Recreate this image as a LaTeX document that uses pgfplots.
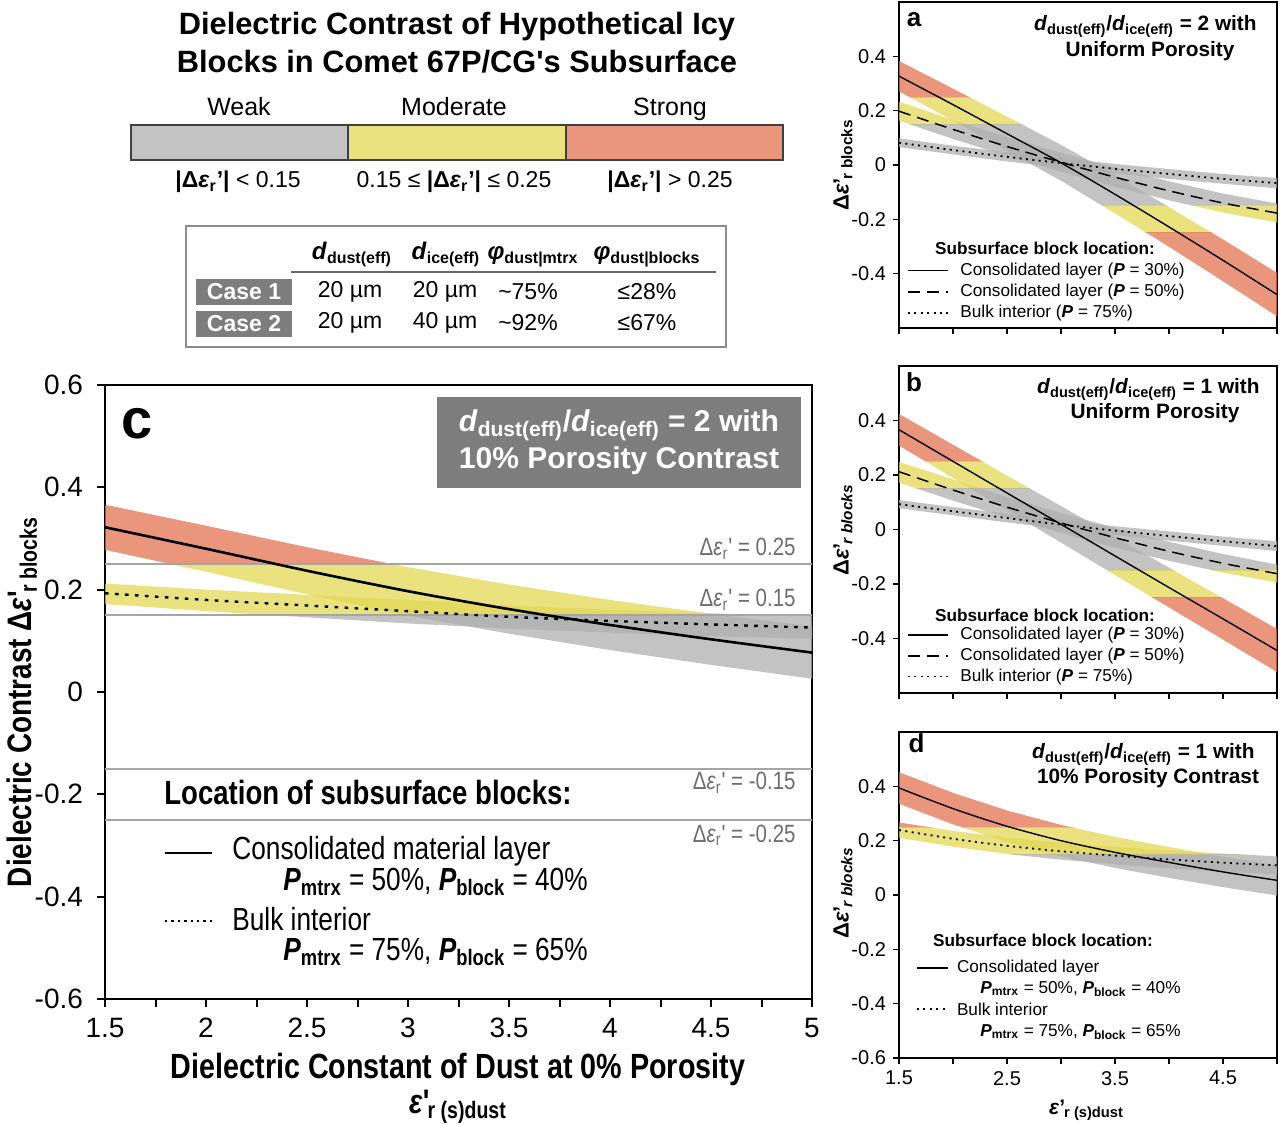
\documentclass[border=0pt]{standalone}
\usepackage{fontspec}
\setmainfont{Liberation Sans}
\newfontfamily\narrow[FakeStretch=0.82]{Liberation Sans}
\usepackage{pgfplots}
\usepackage{pgfplotstable}
\pgfplotsset{compat=1.18}

\definecolor{cgray}{RGB}{175,175,175}
\definecolor{cyel}{RGB}{226,216,84}
\definecolor{cred}{RGB}{226,115,80}
\definecolor{bgray}{RGB}{195,195,195}
\definecolor{byel}{RGB}{233,226,127}
\definecolor{bred}{RGB}{233,150,124}
\definecolor{boxgray}{RGB}{125,125,125}
\definecolor{refgray}{RGB}{165,165,165}
\definecolor{lblgray}{RGB}{110,110,110}

% epsilon with prime and a long subscript, and eps_r'
\newcommand{\ep}[1]{\textit{ε}'\kern-0.05em\textsubscript{#1}}
\newcommand{\epr}{\textit{ε}\textsubscript{r}'}
% one colour class of a band: #1 band polygon, #2 colour, #3 clip box
\newcommand{\strat}[3]{\begin{scope}\clip #3;\addplot[draw=none,fill=#2,fill opacity=0.75] table{#1};\end{scope}}
\newcommand{\Rp}{(axis cs:1,0.25) rectangle (axis cs:6,1)}
\newcommand{\Yp}{(axis cs:1,0.15) rectangle (axis cs:6,0.25)}
\newcommand{\G}{(axis cs:1,-0.15) rectangle (axis cs:6,0.15)}
\newcommand{\Ym}{(axis cs:1,-0.25) rectangle (axis cs:6,-0.15)}
\newcommand{\Rm}{(axis cs:1,-1) rectangle (axis cs:6,-0.25)}

% centre lines: s = solid, m = dashed, o = dotted
\pgfplotstableread{
x   s     o
1.5 0.322 0.193
2.0 0.280 0.180
2.5 0.237 0.169
3.0 0.197 0.158
3.5 0.162 0.147
4.0 0.131 0.139
4.5 0.103 0.132
5.0 0.077 0.126
}\linc
\pgfplotstableread{
x   s      m      o
1.5 0.327  0.198  0.082
2.0 0.222  0.131  0.055
2.5 0.115  0.068  0.030
3.0 0.008  0.010  0.007
3.5 -0.108 -0.045 -0.014
4.0 -0.228 -0.095 -0.033
4.5 -0.351 -0.140 -0.051
5.0 -0.477 -0.177 -0.067
}\lina
\pgfplotstableread{
x   s      m      o
1.5 0.366  0.212  0.093
2.0 0.250  0.145  0.067
2.5 0.134  0.082  0.042
3.0 0.019  0.024  0.018
3.5 -0.097 -0.030 -0.004
4.0 -0.213 -0.080 -0.024
4.5 -0.328 -0.124 -0.043
5.0 -0.444 -0.162 -0.061
}\linb
\pgfplotstableread{
x   s     o
1.5 0.394 0.239
2.0 0.318 0.207
2.5 0.253 0.181
3.0 0.200 0.161
3.5 0.157 0.145
4.0 0.120 0.131
4.5 0.085 0.119
5.0 0.054 0.109
}\lind

% uncertainty bands: upper edge left to right, then lower edge right to left
\pgfplotstableread{
1.5 0.366
2.0 0.325
2.5 0.283
3.0 0.244
3.5 0.210
4.0 0.180
4.5 0.153
5.0 0.128
5.0 0.026
4.5 0.053
4.0 0.082
3.5 0.114
3.0 0.149
2.5 0.191
2.0 0.235
1.5 0.278
}\bcs
\pgfplotstableread{
1.5 0.212
2.0 0.200
2.5 0.190
3.0 0.180
3.5 0.169
4.0 0.161
4.5 0.154
5.0 0.148
5.0 0.104
4.5 0.109
4.0 0.116
3.5 0.124
3.0 0.134
2.5 0.146
2.0 0.158
1.5 0.172
}\bco
\pgfplotstableread{
1.5 0.383
2.0 0.281
2.5 0.178
3.0 0.074
3.5 -0.038
4.0 -0.155
4.5 -0.274
5.0 -0.397
5.0 -0.557
4.5 -0.428
4.0 -0.301
3.5 -0.178
3.0 -0.058
2.5 0.052
2.0 0.163
1.5 0.271
}\bas
\pgfplotstableread{
1.5 0.233
2.0 0.166
2.5 0.103
3.0 0.045
3.5 -0.010
4.0 -0.060
4.5 -0.105
5.0 -0.142
5.0 -0.212
4.5 -0.175
4.0 -0.130
3.5 -0.080
3.0 -0.025
2.5 0.033
2.0 0.096
1.5 0.163
}\bam
\pgfplotstableread{
1.5 0.098
2.0 0.071
2.5 0.047
3.0 0.024
3.5 0.004
4.0 -0.015
4.5 -0.033
5.0 -0.048
5.0 -0.086
4.5 -0.069
4.0 -0.051
3.5 -0.032
3.0 -0.010
2.5 0.013
2.0 0.039
1.5 0.066
}\bao
\pgfplotstableread{
1.5 0.424
2.0 0.311
2.5 0.198
3.0 0.086
3.5 -0.027
4.0 -0.140
4.5 -0.252
5.0 -0.365
5.0 -0.523
4.5 -0.404
4.0 -0.286
3.5 -0.167
3.0 -0.048
2.5 0.070
2.0 0.189
1.5 0.308
}\bbs
\pgfplotstableread{
1.5 0.248
2.0 0.184
2.5 0.120
3.0 0.061
3.5 0.006
4.0 -0.045
4.5 -0.090
5.0 -0.129
5.0 -0.195
4.5 -0.158
4.0 -0.115
3.5 -0.066
3.0 -0.013
2.5 0.044
2.0 0.106
1.5 0.172
}\bbm
\pgfplotstableread{
1.5 0.108
2.0 0.082
2.5 0.058
3.0 0.034
3.5 0.012
4.0 -0.007
4.5 -0.026
5.0 -0.043
5.0 -0.079
4.5 -0.060
4.0 -0.041
3.5 -0.020
3.0 0.002
2.5 0.026
2.0 0.052
1.5 0.078
}\bbo
\pgfplotstableread{
1.5 0.452
2.0 0.376
2.5 0.311
3.0 0.258
3.5 0.214
4.0 0.177
4.5 0.141
5.0 0.110
5.0 -0.002
4.5 0.029
4.0 0.063
3.5 0.100
3.0 0.142
2.5 0.195
2.0 0.260
1.5 0.336
}\bds
\pgfplotstableread{
1.5 0.267
2.0 0.236
2.5 0.211
3.0 0.192
3.5 0.177
4.0 0.164
4.5 0.153
5.0 0.142
5.0 0.076
4.5 0.085
4.0 0.098
3.5 0.113
3.0 0.130
2.5 0.151
2.0 0.178
1.5 0.211
}\bdo

\pgfplotsset{
  panel/.style={scale only axis, anchor=south west, xmin=1.5, xmax=5, ymin=-0.6, ymax=0.6,
    tick align=outside, tick pos=left,
    axis line style={line width=0.9pt}, tick style={black, line width=0.8pt},
    major tick length=3pt, minor tick length=3pt,
    /pgf/number format/assume math mode=true},
  small/.style={panel, width=189pt, height=163pt,
    xtick={1.5,2,2.5,3,3.5,4,4.5,5}, ytick={-0.4,-0.2,0,0.2,0.4},
    tick label style={font=\fontsize{10}{12}\selectfont}},
  solidl/.style={black, line width=0.7pt, smooth},
  dashl/.style={black, line width=0.75pt, smooth, dash pattern=on 6pt off 3.5pt},
  dotl/.style={black, line width=0.9pt, smooth, dash pattern=on 1pt off 2.2pt},
}
\tikzset{lab/.style={inner sep=0pt}}

\begin{document}
\begin{tikzpicture}
\useasboundingbox (0,0) rectangle (641.5pt,562pt);

% ---------- title and colour key ----------
\node[lab, anchor=base, font=\fontsize{15.4}{18}\selectfont\bfseries] at (228.5pt,544.5pt) {Dielectric Contrast of Hypothetical Icy};
\node[lab, anchor=base, font=\fontsize{15.4}{18}\selectfont\bfseries] at (228.5pt,525.5pt) {Blocks in Comet 67P/CG\textquotesingle s Subsurface};

\draw[line width=0.7pt, draw=black!75, fill=bgray] (65.5pt,482pt) rectangle (174pt,499.5pt);
\draw[line width=0.7pt, draw=black!75, fill=byel] (174pt,482pt) rectangle (283pt,499.5pt);
\draw[line width=0.7pt, draw=black!75, fill=bred] (283pt,482pt) rectangle (391.5pt,499.5pt);
\node[lab, anchor=base, font=\fontsize{12.5}{14}\selectfont] at (119.5pt,504pt) {Weak};
\node[lab, anchor=base, font=\fontsize{12.5}{14}\selectfont] at (227pt,504pt) {Moderate};
\node[lab, anchor=base, font=\fontsize{12.5}{14}\selectfont] at (335pt,504pt) {Strong};
\node[lab, anchor=base, font=\fontsize{11.5}{13}\selectfont] at (119pt,468pt) {\textbf{|Δ\epr|} < 0.15};
\node[lab, anchor=base, font=\fontsize{11.5}{13}\selectfont] at (227pt,468pt) {0.15 ≤ \textbf{|Δ\epr|} ≤ 0.25};
\node[lab, anchor=base, font=\fontsize{11.5}{13}\selectfont] at (335pt,468pt) {\textbf{|Δ\epr|} > 0.25};

% ---------- table ----------
\draw[draw=black!45, line width=0.6pt] (93pt,388.5pt) rectangle (363pt,449pt);
\draw[black!60, line width=0.6pt] (145.5pt,426pt) -- (358pt,426pt);
\node[lab, anchor=base, font=\fontsize{12}{14}\selectfont\bfseries] at (176pt,432pt) {\textit{d}\textsubscript{dust(eff)}};
\node[lab, anchor=base, font=\fontsize{12}{14}\selectfont\bfseries] at (223pt,432pt) {\textit{d}\textsubscript{ice(eff)}};
\node[lab, anchor=base, font=\fontsize{12}{14}\selectfont\bfseries] at (266.5pt,432pt) {\textit{φ}\textsubscript{dust|mtrx}};
\node[lab, anchor=base, font=\fontsize{12}{14}\selectfont\bfseries] at (323.5pt,432pt) {\textit{φ}\textsubscript{dust|blocks}};
\fill[boxgray] (98pt,409.5pt) rectangle (146pt,422.5pt);
\fill[boxgray] (98pt,393.5pt) rectangle (146pt,406.5pt);
\node[lab, white, font=\fontsize{11.5}{13}\selectfont\bfseries] at (122pt,416pt) {Case 1};
\node[lab, white, font=\fontsize{11.5}{13}\selectfont\bfseries] at (122pt,400pt) {Case 2};
\begin{scope}[every node/.style={lab, font=\fontsize{11.5}{13}\selectfont}]
\node at (175pt,416pt) {20 µm};
\node at (222.5pt,416pt) {20 µm};
\node at (264pt,416pt) {\textasciitilde75\%};
\node at (323.5pt,416pt) {≤28\%};
\node at (175pt,400.5pt) {20 µm};
\node at (222.5pt,400.5pt) {40 µm};
\node at (264pt,400.5pt) {\textasciitilde92\%};
\node at (323.5pt,400.5pt) {≤67\%};
\end{scope}

% ---------- panel c ----------
\begin{axis}[panel, width=353.5pt, height=307pt, at={(52.5pt,62.5pt)},
  xtick={1.5,2,2.5,3,3.5,4,4.5,5}, minor xtick={1.75,2.25,2.75,3.25,3.75,4.25,4.75},
  ytick={-0.6,-0.4,-0.2,0,0.2,0.4,0.6},
  major tick length=4pt, minor tick length=4pt,
  axis line style={line width=1.1pt}, tick style={black, line width=1pt},
  tick label style={font=\fontsize{14}{16}\selectfont},
  yticklabel style={xshift=-3.5pt}, xticklabel style={yshift=-2pt}]
\strat{\bcs}{cred}{\Rp}
\strat{\bcs}{cyel}{\Yp}
\strat{\bcs}{cgray}{\G}
\strat{\bco}{cyel}{\Yp}
\strat{\bco}{cgray}{\G}
\addplot[refgray, line width=0.8pt] coordinates {(1.5,0.25) (5,0.25)};
\addplot[refgray, line width=0.8pt] coordinates {(1.5,0.15) (5,0.15)};
\addplot[refgray, line width=0.8pt] coordinates {(1.5,-0.15) (5,-0.15)};
\addplot[refgray, line width=0.8pt] coordinates {(1.5,-0.25) (5,-0.25)};
\addplot[black, line width=1.3pt, smooth] table[x=x,y=s]{\linc};
\addplot[black, line width=1.2pt, smooth, dash pattern=on 1.8pt off 3.2pt] table[x=x,y=o]{\linc};
\end{axis}

\node[lab, font=\fontsize{28}{30}\selectfont\bfseries] at (68.5pt,350pt) {c};
\fill[boxgray] (218.5pt,318pt) rectangle (400.5pt,363.5pt);
\node[lab, white, align=center, font=\fontsize{15}{18.5}\selectfont\bfseries] at (309.5pt,341pt)
  {\textit{d}\textsubscript{dust(eff)}/\textit{d}\textsubscript{ice(eff)} = 2 with\\10\% Porosity Contrast};
\begin{scope}[every node/.style={lab, anchor=base east, text=lblgray, font=\narrow\fontsize{12.5}{14}\selectfont}]
\node at (398pt,284pt) {Δ\epr\ = 0.25};
\node at (398pt,258.5pt) {Δ\epr\ = 0.15};
\node at (398pt,167pt) {Δ\epr\ = -0.15};
\node at (398pt,141pt) {Δ\epr\ = -0.25};
\end{scope}
\node[lab, anchor=base west, font=\narrow\fontsize{16.8}{18}\selectfont\bfseries] at (82pt,159.5pt) {Location of subsurface blocks:};
\draw[black, line width=1.3pt] (82.5pt,135.5pt) -- (106pt,135.5pt);
\draw[black, line width=1.2pt, dash pattern=on 1.2pt off 2pt] (82.5pt,101.5pt) -- (106pt,101.5pt);
\begin{scope}[every node/.style={lab, anchor=base west, font=\narrow\fontsize{16}{18}\selectfont}]
\node at (116pt,132pt) {Consolidated material layer};
\node at (141.5pt,117pt) {\textbf{\textit{P}\textsubscript{mtrx}} = 50\%, \textbf{\textit{P}\textsubscript{block}} = 40\%};
\node at (116pt,97pt) {Bulk interior};
\node at (141.5pt,82pt) {\textbf{\textit{P}\textsubscript{mtrx}} = 75\%, \textbf{\textit{P}\textsubscript{block}} = 65\%};
\end{scope}
\node[lab, rotate=90, font=\narrow\fontsize{17}{19}\selectfont\bfseries] at (11pt,211pt) {Dielectric Contrast Δ\ep{r blocks}};
\node[lab, anchor=base, font=\narrow\fontsize{17.5}{19}\selectfont\bfseries] at (229pt,23pt) {Dielectric Constant of Dust at 0\% Porosity};
\node[lab, font=\narrow\fontsize{17}{19}\selectfont\bfseries] at (229pt,8.5pt) {\ep{r (s)dust}};

% ---------- panel a ----------
\begin{axis}[small, at={(449.5pt,398pt)}, xticklabels={}]
\strat{\bas}{cred}{\Rp}
\strat{\bas}{cyel}{\Yp}
\strat{\bas}{cgray}{\G}
\strat{\bas}{cyel}{\Ym}
\strat{\bas}{cred}{\Rm}
\strat{\bam}{cyel}{\Yp}
\strat{\bam}{cgray}{\G}
\strat{\bam}{cyel}{\Ym}
\addplot[draw=none, fill=cgray, fill opacity=0.75] table{\bao};
\addplot[solidl] table[x=x,y=s]{\lina};
\addplot[dashl] table[x=x,y=m]{\lina};
\addplot[dotl] table[x=x,y=o]{\lina};
\end{axis}

% ---------- panel b ----------
\begin{axis}[small, at={(449.5pt,215.5pt)}, height=163.5pt, xticklabels={}]
\strat{\bbs}{cred}{\Rp}
\strat{\bbs}{cyel}{\Yp}
\strat{\bbs}{cgray}{\G}
\strat{\bbs}{cyel}{\Ym}
\strat{\bbs}{cred}{\Rm}
\strat{\bbm}{cyel}{\Yp}
\strat{\bbm}{cgray}{\G}
\strat{\bbm}{cyel}{\Ym}
\addplot[draw=none, fill=cgray, fill opacity=0.75] table{\bbo};
\addplot[solidl] table[x=x,y=s]{\linb};
\addplot[dashl] table[x=x,y=m]{\linb};
\addplot[dotl] table[x=x,y=o]{\linb};
\end{axis}

% ---------- panel d ----------
\begin{axis}[small, at={(449.5pt,33pt)}, xtick={1.5,2.5,3.5,4.5}, minor xtick={2,3,4,5},
  ytick={-0.6,-0.4,-0.2,0,0.2,0.4}]
\strat{\bds}{cred}{\Rp}
\strat{\bds}{cyel}{\Yp}
\strat{\bds}{cgray}{\G}
\strat{\bdo}{cred}{\Rp}
\strat{\bdo}{cyel}{\Yp}
\strat{\bdo}{cgray}{\G}
\addplot[solidl] table[x=x,y=s]{\lind};
\addplot[dotl] table[x=x,y=o]{\lind};
\end{axis}

% ---------- small panel annotations ----------
\begin{scope}[every node/.style={lab}]
\node[font=\fontsize{13}{15}\selectfont\bfseries] at (457pt,552pt) {a};
\node[font=\fontsize{13}{15}\selectfont\bfseries] at (457pt,371pt) {b};
\node[font=\fontsize{13}{15}\selectfont\bfseries] at (458.3pt,190.5pt) {d};
\node[anchor=base east, font=\fontsize{10.4}{12}\selectfont\bfseries] at (628.5pt,546.5pt) {\textit{d}\textsubscript{dust(eff)}/\textit{d}\textsubscript{ice(eff)} = 2 with};
\node[anchor=base, font=\fontsize{10.4}{12}\selectfont\bfseries] at (575pt,533.5pt) {Uniform Porosity};
\node[anchor=base east, font=\fontsize{10.4}{12}\selectfont\bfseries] at (630pt,365pt) {\textit{d}\textsubscript{dust(eff)}/\textit{d}\textsubscript{ice(eff)} = 1 with};
\node[anchor=base, font=\fontsize{10.4}{12}\selectfont\bfseries] at (577.5pt,352.5pt) {Uniform Porosity};
\node[anchor=base east, font=\fontsize{10.4}{12}\selectfont\bfseries] at (627.5pt,182.5pt) {\textit{d}\textsubscript{dust(eff)}/\textit{d}\textsubscript{ice(eff)} = 1 with};
\node[anchor=base, font=\fontsize{10.4}{12}\selectfont\bfseries] at (574pt,170pt) {10\% Porosity Contrast};
\node[rotate=90, font=\fontsize{11}{13}\selectfont\bfseries] at (421.5pt,479.5pt) {Δ\ep{r blocks}};
\node[rotate=90, font=\fontsize{11}{13}\selectfont\bfseries] at (421.5pt,297pt) {Δ\ep{\textit{r blocks}}};
\node[rotate=90, font=\fontsize{11}{13}\selectfont\bfseries] at (421.5pt,115.5pt) {Δ\ep{\textit{r blocks}}};
\node[font=\fontsize{10.5}{12}\selectfont\bfseries] at (543.3pt,7pt) {\ep{r (s)dust}};
\node[font=\fontsize{8.6}{10}\selectfont\bfseries] at (522.5pt,438pt) {Subsurface block location:};
\node[font=\fontsize{8.6}{10}\selectfont\bfseries] at (522.5pt,254.5pt) {Subsurface block location:};
\node[font=\fontsize{8.6}{10}\selectfont\bfseries] at (521.5pt,92pt) {Subsurface block location:};
\end{scope}
\draw[black, line width=0.7pt] (454pt,426.7pt) -- (474pt,426.7pt);
\draw[black, line width=0.75pt, dash pattern=on 6pt off 3.5pt] (454pt,416pt) -- (474pt,416pt);
\draw[black, line width=0.9pt, dash pattern=on 1pt off 2.2pt] (454pt,405.5pt) -- (474pt,405.5pt);
\draw[black, line width=0.7pt] (454pt,244.5pt) -- (474pt,244.5pt);
\draw[black, line width=0.75pt, dash pattern=on 6pt off 3.5pt] (454pt,234pt) -- (474pt,234pt);
\draw[black, line width=0.9pt, dash pattern=on 1pt off 2.2pt] (454pt,223.7pt) -- (474pt,223.7pt);
\draw[black, line width=0.7pt] (458.5pt,78pt) -- (474pt,78pt);
\draw[black, line width=0.9pt, dash pattern=on 1pt off 2.2pt] (458.5pt,57.5pt) -- (474pt,57.5pt);
\begin{scope}[every node/.style={lab, anchor=west, font=\fontsize{8.6}{10}\selectfont}]
\node at (480pt,426.7pt) {Consolidated layer (\textbf{\textit{P}} = 30\%)};
\node at (480pt,416pt) {Consolidated layer (\textbf{\textit{P}} = 50\%)};
\node at (480pt,405.5pt) {Bulk interior (\textbf{\textit{P}} = 75\%)};
\node at (480pt,244.5pt) {Consolidated layer (\textbf{\textit{P}} = 30\%)};
\node at (480pt,234pt) {Consolidated layer (\textbf{\textit{P}} = 50\%)};
\node at (480pt,223.7pt) {Bulk interior (\textbf{\textit{P}} = 75\%)};
\node at (478.3pt,78pt) {Consolidated layer};
\node at (490pt,67.5pt) {\textbf{\textit{P}\textsubscript{mtrx}} = 50\%, \textbf{\textit{P}\textsubscript{block}} = 40\%};
\node at (478.3pt,57.5pt) {Bulk interior};
\node at (490pt,46pt) {\textbf{\textit{P}\textsubscript{mtrx}} = 75\%, \textbf{\textit{P}\textsubscript{block}} = 65\%};
\end{scope}
\end{tikzpicture}
\end{document}
